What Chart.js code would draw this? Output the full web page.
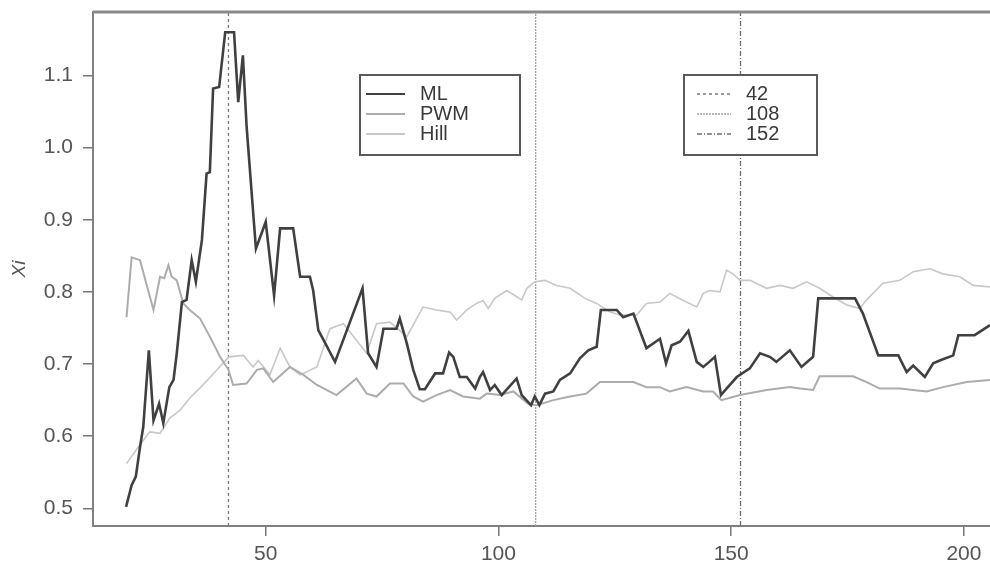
<!DOCTYPE html>
<html>
<head>
<meta charset="utf-8">
<script src="https://cdn.jsdelivr.net/npm/chart.js@4.4.1/dist/chart.umd.min.js"></script>
<style>
  html, body { margin: 0; padding: 0; background: #fff; overflow: hidden; }
  #wrap { width: 990px; height: 565px; position: relative; }
</style>
</head>
<body>
<div id="wrap"><canvas id="chartCanvas"></canvas></div>
<script>
// values
const mlX = [20.0, 21.2, 22.1, 23.0, 23.7, 24.9, 25.9, 27.1, 28.0, 29.3, 30.2, 30.9, 32.0, 33.0, 34.1, 35.0, 36.3, 37.3, 38.0, 38.7, 40.0, 41.3, 43.2, 44.1, 45.1, 45.9, 47.9, 50.0, 51.8, 53.1, 55.9, 57.4, 59.5, 60.2, 61.3, 64.9, 70.8, 72.0, 73.8, 75.3, 78.1, 78.8, 80.3, 81.7, 83.1, 84.2, 86.4, 88.1, 89.4, 90.3, 91.7, 93.2, 95.0, 96.0, 96.7, 98.2, 99.2, 100.7, 103.9, 105.0, 107.0, 107.8, 108.8, 110.0, 111.8, 113.2, 115.4, 117.5, 119.3, 121.1, 122.0, 125.4, 126.8, 129.0, 131.8, 134.7, 136.0, 137.2, 139.0, 140.8, 142.6, 144.0, 145.3, 146.5, 147.8, 149.0, 151.2, 154.0, 156.2, 158.3, 159.7, 162.6, 165.1, 167.6, 168.7, 176.6, 178.3, 181.6, 185.9, 187.7, 189.1, 191.6, 193.4, 194.8, 197.7, 198.8, 202.3, 205.6];
const mlY = [0.502, 0.532, 0.544, 0.585, 0.613, 0.719, 0.622, 0.645, 0.618, 0.668, 0.678, 0.715, 0.786, 0.789, 0.844, 0.814, 0.872, 0.964, 0.966, 1.082, 1.084, 1.160, 1.160, 1.063, 1.128, 1.029, 0.860, 0.897, 0.795, 0.888, 0.888, 0.821, 0.821, 0.802, 0.747, 0.703, 0.805, 0.715, 0.696, 0.749, 0.749, 0.763, 0.729, 0.692, 0.665, 0.665, 0.687, 0.687, 0.716, 0.710, 0.682, 0.682, 0.666, 0.682, 0.689, 0.664, 0.671, 0.657, 0.680, 0.657, 0.643, 0.655, 0.643, 0.659, 0.662, 0.678, 0.687, 0.708, 0.719, 0.724, 0.775, 0.775, 0.765, 0.770, 0.722, 0.735, 0.701, 0.726, 0.731, 0.746, 0.703, 0.696, 0.703, 0.710, 0.657, 0.666, 0.682, 0.694, 0.715, 0.710, 0.703, 0.719, 0.696, 0.710, 0.791, 0.791, 0.770, 0.712, 0.712, 0.689, 0.698, 0.682, 0.701, 0.705, 0.712, 0.740, 0.740, 0.754];

const pwmX = [20.1, 21.2, 23.0, 25.9, 27.3, 28.2, 29.1, 29.8, 30.9, 32.3, 33.7, 35.9, 38.0, 40.2, 42.0, 43.0, 45.9, 48.1, 49.5, 51.6, 55.2, 58.1, 61.0, 65.2, 69.5, 71.7, 73.8, 76.7, 79.6, 81.7, 83.8, 86.7, 89.6, 92.4, 96.0, 97.5, 100.3, 103.2, 106.4, 108.2, 111.8, 115.4, 118.9, 121.8, 126.1, 129.0, 131.8, 134.7, 136.8, 140.4, 144.0, 146.1, 147.9, 151.9, 157.6, 162.6, 164.8, 167.6, 169.0, 176.2, 179.1, 181.9, 186.2, 192.0, 195.5, 200.6, 205.6];
const pwmY = [0.765, 0.848, 0.844, 0.775, 0.821, 0.819, 0.837, 0.821, 0.816, 0.784, 0.775, 0.763, 0.738, 0.710, 0.692, 0.671, 0.673, 0.692, 0.694, 0.675, 0.696, 0.685, 0.671, 0.657, 0.680, 0.659, 0.655, 0.673, 0.673, 0.655, 0.648, 0.657, 0.664, 0.655, 0.652, 0.659, 0.657, 0.662, 0.645, 0.643, 0.650, 0.655, 0.659, 0.675, 0.675, 0.675, 0.668, 0.668, 0.662, 0.668, 0.662, 0.662, 0.650, 0.657, 0.664, 0.668, 0.666, 0.664, 0.683, 0.683, 0.675, 0.666, 0.666, 0.662, 0.668, 0.675, 0.678];

const hillX = [20.1, 23.0, 25.1, 27.3, 29.4, 31.6, 33.7, 35.9, 38.0, 40.2, 42.1, 45.2, 47.3, 48.4, 50.9, 53.1, 55.2, 57.4, 61.0, 63.8, 66.7, 69.5, 71.7, 73.8, 76.7, 80.3, 83.8, 86.7, 89.6, 91.0, 93.2, 95.3, 96.7, 97.8, 99.2, 101.8, 103.5, 105.0, 106.1, 107.8, 110.0, 112.5, 115.4, 118.6, 121.1, 124.0, 126.1, 129.7, 131.8, 134.7, 136.8, 139.7, 142.6, 144.0, 145.4, 147.6, 149.0, 150.4, 151.9, 154.1, 157.6, 160.5, 163.3, 166.2, 169.0, 171.9, 174.8, 177.6, 179.1, 182.6, 186.2, 189.1, 192.7, 195.5, 199.1, 202.0, 205.6];
const hillY = [0.562, 0.588, 0.606, 0.604, 0.625, 0.636, 0.653, 0.667, 0.681, 0.697, 0.710, 0.712, 0.696, 0.705, 0.685, 0.722, 0.696, 0.685, 0.696, 0.749, 0.756, 0.733, 0.715, 0.756, 0.758, 0.738, 0.779, 0.775, 0.772, 0.761, 0.775, 0.784, 0.788, 0.777, 0.791, 0.802, 0.795, 0.789, 0.805, 0.814, 0.816, 0.809, 0.805, 0.791, 0.784, 0.772, 0.768, 0.768, 0.784, 0.786, 0.798, 0.788, 0.779, 0.798, 0.802, 0.800, 0.830, 0.825, 0.816, 0.816, 0.805, 0.809, 0.805, 0.814, 0.805, 0.793, 0.782, 0.777, 0.789, 0.812, 0.816, 0.828, 0.832, 0.825, 0.821, 0.809, 0.807];

const cutoffs = [42, 108, 152];
const xTicks = [50, 100, 150, 200];
const yTicks = [0.5, 0.6, 0.7, 0.8, 0.9, 1.0, 1.1];
const xRange = [12.9, 205.6];
const yRange = [0.4755, 1.188];

const zip = (xs, ys) => xs.map((x, i) => ({ x, y: ys[i] }));

const series = [
  { label: "ML", xs: mlX, ys: mlY, color: "#404040", width: 2.6 },
  { label: "PWM", xs: pwmX, ys: pwmY, color: "#acacac", width: 2 },
  { label: "Hill", xs: hillX, ys: hillY, color: "#c8c8c8", width: 1.6 }
];
const cutStyles = [
  { dash: [3, 3], color: "#7a7a7a" },
  { dash: [2, 1], color: "#a0a0a0" },
  { dash: [5, 2, 1, 2], color: "#6e6e6e" }
];

const datasets = series.map(s => ({
  label: s.label,
  data: zip(s.xs, s.ys),
  borderColor: s.color,
  borderWidth: s.width,
  pointRadius: 0,
  tension: 0,
  fill: false
})).concat(cutoffs.map((c, i) => ({
  label: String(c),
  data: [{ x: c, y: yRange[0] }, { x: c, y: yRange[1] }],
  borderColor: cutStyles[i].color,
  borderDash: cutStyles[i].dash,
  borderWidth: 1.3,
  pointRadius: 0,
  fill: false,
  order: 10
})));

// frame top line and the two boxed legends
const framePlugin = {
  id: "framePlugin",
  afterDraw(chart) {
    const { ctx, chartArea } = chart;
    ctx.save();
    ctx.strokeStyle = "#8a8a8a";
    ctx.lineWidth = 3;
    ctx.beginPath();
    ctx.moveTo(chartArea.left, chartArea.top);
    ctx.lineTo(chartArea.right, chartArea.top);
    ctx.stroke();

    const drawBox = (x, y, w, h, items, lineX0, lineX1, textX) => {
      ctx.fillStyle = "#fff";
      ctx.fillRect(x, y, w, h);
      ctx.strokeStyle = "#5a5a5a";
      ctx.lineWidth = 2;
      ctx.setLineDash([]);
      ctx.strokeRect(x, y, w, h);
      items.forEach((it, i) => {
        const cy = y + 19 + i * 20;
        ctx.strokeStyle = it.color;
        ctx.lineWidth = it.width;
        ctx.setLineDash(it.dash || []);
        ctx.beginPath();
        ctx.moveTo(lineX0, cy);
        ctx.lineTo(lineX1, cy);
        ctx.stroke();
        ctx.setLineDash([]);
        ctx.fillStyle = "#3a3a3a";
        ctx.font = "20px 'Liberation Sans', Arial, sans-serif";
        ctx.textBaseline = "middle";
        ctx.textAlign = "left";
        ctx.fillText(it.label, textX, cy);
      });
    };

    drawBox(360, 75, 160, 80,
      series.map(s => ({ label: s.label, color: s.color, width: 2 })),
      366, 405, 420);
    drawBox(684, 75, 133, 80,
      cutoffs.map((c, i) => ({ label: String(c), color: cutStyles[i].color, width: 1.5, dash: cutStyles[i].dash })),
      697, 731, 746);
    ctx.restore();
  }
};

Chart.defaults.font.family = "'Liberation Sans', Arial, sans-serif";
Chart.defaults.color = "#555";

new Chart(document.getElementById("chartCanvas"), {
  type: "line",
  data: { datasets },
  plugins: [framePlugin],
  options: {
    responsive: true,
    maintainAspectRatio: false,
    animation: false,
    layout: { padding: { top: 12, left: 0, right: 0, bottom: 0 } },
    plugins: { legend: { display: false }, tooltip: { enabled: false } },
    scales: {
      x: {
        type: "linear",
        min: xRange[0],
        max: xRange[1],
        afterBuildTicks: scale => { scale.ticks = xTicks.map(v => ({ value: v })); },
        afterFit: scale => { scale.height = 39; scale.paddingLeft = 0; scale.paddingRight = 0; },
        ticks: { font: { size: 21 }, color: "#555", padding: 6, maxRotation: 0, callback: v => String(v) },
        grid: { drawOnChartArea: false, drawTicks: true, tickLength: 10, color: "#777", lineWidth: 1.5 },
        border: { display: true, color: "#808080", width: 2 }
      },
      y: {
        type: "linear",
        min: yRange[0],
        max: yRange[1],
        afterBuildTicks: scale => { scale.ticks = yTicks.map(v => ({ value: v })); },
        afterFit: scale => { scale.width = 93; scale.paddingTop = 0; scale.paddingBottom = 0; },
        ticks: { font: { size: 21 }, color: "#555", padding: 10, callback: v => v.toFixed(1) },
        grid: { drawOnChartArea: false, drawTicks: true, tickLength: 10, color: "#777", lineWidth: 1.5 },
        border: { display: true, color: "#808080", width: 2 },
        title: { display: true, text: "Xi", font: { size: 19, style: "italic" }, color: "#555", padding: { top: 8, bottom: 0 } }
      }
    }
  }
});
</script>
</body>
</html>
